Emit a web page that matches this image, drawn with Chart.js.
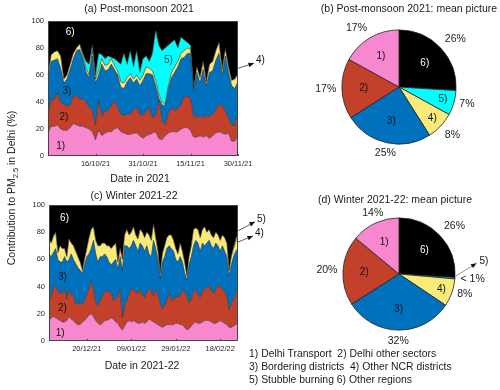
<!DOCTYPE html>
<html>
<head>
<meta charset="utf-8">
<script src="https://cdn.jsdelivr.net/npm/chart.js@4.4.1/dist/chart.umd.min.js"></script>
<style>
  body { margin: 0; background: #fff; }
  #wrap { position: relative; width: 500px; height: 390px; overflow: hidden;
          font-family: "Liberation Sans", Arial, sans-serif; color: #1a1a1a; }
  #wrap canvas { position: absolute; left: 0; top: 0; }
  .lbl { position: absolute; white-space: nowrap; font-size: 10.5px; line-height: 13px;
         transform: translate(-50%, -50%); }
  #ylab { position: absolute; left: -89px; top: 181px; width: 200px; height: 14px; line-height: 14px;
          text-align: center; white-space: nowrap; font-size: 10.5px; font-weight: 400; color: #1a1a1a;
          transform: rotate(-90deg); transform-origin: 100px 7px; }
  #ylab sub { font-size: 7.5px; vertical-align: -3px; line-height: 0; }
  #legend { position: absolute; left: 249px; top: 347px; font-size: 10.4px; line-height: 13px; white-space: nowrap; }
</style>
</head>
<body>
<div id="wrap">
  <canvas id="cA" width="500" height="390"></canvas>
  <canvas id="cC" width="500" height="390"></canvas>
  <canvas id="cB" width="500" height="390"></canvas>
  <canvas id="cD" width="500" height="390"></canvas>
  <div class="lbl" style="left:139px;top:8px">(a) Post-monsoon 2021</div>
  <div class="lbl" style="left:140px;top:178px">Date in 2021</div>
  <div class="lbl" style="left:134px;top:195px">(c) Winter 2021-22</div>
  <div class="lbl" style="left:142px;top:365px">Date in 2021-22</div>
  <div class="lbl" style="left:409px;top:8px">(b) Post-monsoon 2021: mean picture</div>
  <div class="lbl" style="left:395px;top:199px">(d) Winter 2021-22: mean picture</div>
  <div id="ylab">Contribution to PM<sub>2.5</sub> in Delhi (%)</div>
  <div id="legend"></div>
</div>
<script>
// source names, numbered 1) .. 6)
const sources = ['Delhi Transport', 'Delhi other sectors', 'Bordering districts',
                 'Other NCR districts', 'Stubble burning', 'Other regions'];
const colors = ['#f788d0', '#c3402b', '#0072bd', '#f9ea7a', '#00ffff', '#000000'];

// (a) post-monsoon, 1 Oct - 30 Nov 2021: upper edge of each band (cumulative %)
const postTop1 = [17,22,22,23,20,19,19,21,24,23,22,22,21,20,18,12,19,15,17,18,18,20,21,18,17,16,16,17,17,15,
                  13,15,16,17,18,13,12,15,17,18,18,18,20,21,21,19,14,14,15,14,15,13,15,17,18,17,16,17,11,11,15];
const postTop2 = [30,42,42,47,40,38,37,38,44,45,42,42,40,36,34,23,41,30,33,34,37,41,36,31,30,31,31,34,36,31,
                  30,33,36,28,30,41,26,23,32,35,34,35,38,44,44,43,29,29,30,28,30,29,31,34,38,38,33,28,23,23,35];
const postTop3 = [57,70,71,72,65,54,57,64,72,78,79,72,62,58,74,54,60,68,63,64,68,64,60,51,50,55,58,54,57,52,
                  56,61,61,60,52,43,38,37,50,58,62,66,72,73,76,76,48,62,54,64,52,62,63,71,76,60,74,62,52,50,55];
const postTop4 = [60,75,77,78,74,57,60,68,76,80,83,74,65,60,78,57,64,72,67,68,72,67,63,55,54,58,61,57,60,56,
                  60,66,65,63,56,46,40,38,52,62,66,70,76,78,80,79,50,66,58,70,55,68,70,78,84,64,79,66,56,57,61];
const postTop5 = [60,75,77,78,74,57,60,68,76,80,83,76,70,68,82,60,76,75,72,74,73,72,70,68,76,68,78,66,78,62,
                  72,74,70,76,93,82,78,80,82,84,86,80,88,86,84,82,50,66,58,70,55,68,70,78,84,64,79,66,56,57,61];
const postTicks = ['16/10/21', '31/10/21', '15/11/21', '30/11/21'];

// (c) winter, 3 Dec 2021 - 26 Feb 2022
const winTop1 = [15,17,18,17,16,15,14,14,15,18,16,15,13,12,12,14,15,17,19,20,18,15,13,12,13,15,15,16,17,16,
                 14,13,10,8,11,14,15,14,15,14,13,13,14,13,14,16,15,14,13,12,11,10,11,12,12,12,12,13,13,12,
                 12,10,8,9,11,13,14,13,13,14,15,15,15,14,13,13,14,15,14,13,12,10,10,11,12,15];
const winTop2 = [33,32,40,40,37,35,35,38,31,38,34,33,27,28,28,27,30,34,38,44,38,28,26,30,33,36,37,36,35,30,
                 31,33,38,17,26,30,34,38,38,36,35,38,34,32,36,38,37,33,38,33,28,24,26,30,35,31,30,33,32,33,
                 38,35,34,28,31,36,38,34,32,37,38,39,41,37,35,38,40,41,38,36,33,23,28,30,35,41];
const winTop3 = [64,62,65,68,60,58,58,62,58,60,64,60,57,54,52,50,56,62,64,68,74,64,58,62,62,64,62,58,56,58,
                 60,53,62,52,70,70,68,70,74,70,66,72,70,66,70,64,62,74,68,60,46,58,62,68,70,68,66,60,58,62,
                 58,50,45,56,62,70,74,72,66,72,70,72,74,70,68,72,70,66,70,66,62,48,56,62,66,68];
const winTop4 = [75,72,77,80,65,70,68,68,62,75,72,70,66,62,58,52,60,68,76,82,84,74,70,70,72,72,70,70,68,70,
                 72,58,68,60,78,82,78,80,84,78,75,82,80,76,80,78,74,86,76,66,50,64,70,76,78,78,74,68,64,72,
                 66,58,48,62,70,82,83,82,76,82,84,80,82,78,76,80,78,74,78,76,72,52,62,68,73,77];
const winTop5 = [75,72,77,80,65,70,68,68,62,75,72,70,66,62,58,52,60,68,76,82,84,74,70,70,72,72,70,70,68,70,
                 72,58,68,60,78,82,78,80,84,78,75,82,80,76,80,78,74,86,76,66,50,64,70,76,78,78,74,68,64,72,
                 66,58,48,62,70,82,83,82,76,82,84,80,82,78,76,80,78,74,78,76,72,52,62,69,75,79];
const winTicks = ['20/12/21', '09/01/22', '29/01/22', '18/02/22'];

// (b), (d) mean shares, sources 1..6
const postMean = [17, 17, 25, 8, 7, 26];
const postPct = ['17%', '17%', '25%', '8%', '7%', '26%'];
const winMean = [14, 20, 31.6, 8, 0.4, 26];
const winPct = ['14%', '20%', '32%', '8%', '< 1%', '26%'];

const FONT = '"Liberation Sans", Arial, sans-serif';

function dayLabels(y, m, d, n) {
  const out = [];
  for (let i = 0; i < n; i++) {
    const t = new Date(Date.UTC(y, m - 1, d + i));
    out.push(String(t.getUTCDate()).padStart(2, '0') + '/' +
             String(t.getUTCMonth() + 1).padStart(2, '0') + '/' +
             String(t.getUTCFullYear()).slice(2));
  }
  return out;
}

function drawArrow(ctx, x0, y0, x1, y1) {
  const a = Math.atan2(y1 - y0, x1 - x0);
  ctx.beginPath();
  ctx.moveTo(x0, y0);
  ctx.lineTo(x1, y1);
  ctx.stroke();
  ctx.beginPath();
  ctx.moveTo(x1, y1);
  ctx.lineTo(x1 - 6 * Math.cos(a - 0.4), y1 - 6 * Math.sin(a - 0.4));
  ctx.lineTo(x1 - 6 * Math.cos(a + 0.4), y1 - 6 * Math.sin(a + 0.4));
  ctx.closePath();
  ctx.fill();
}

// axes box, inward tick marks, band numbers and arrows
const framePlugin = {
  id: 'frame',
  afterDatasetsDraw(chart, args, opts) {
    const { ctx, chartArea: a, scales: { x, y } } = chart;
    ctx.save();
    ctx.strokeStyle = '#444';
    ctx.lineWidth = 1;
    ctx.strokeRect(a.left + 0.5, a.top + 0.5, a.width - 1, a.height - 1);
    x.ticks.forEach((t, k) => {
      if (!opts.ticks.includes(x.getLabelForValue(t.value))) return;
      const px = Math.round(x.getPixelForTick(k)) + 0.5;
      ctx.beginPath(); ctx.moveTo(px, a.bottom); ctx.lineTo(px, a.bottom - 2); ctx.stroke();
    });
    ctx.font = '10px ' + FONT;
    ctx.textAlign = 'center';
    ctx.textBaseline = 'middle';
    opts.notes.forEach(n => {
      ctx.fillStyle = n.color;
      ctx.fillText(n.text, x.getPixelForValue(n.i), y.getPixelForValue(n.v));
    });
    ctx.strokeStyle = '#333';
    ctx.fillStyle = '#111';
    ctx.lineWidth = 0.8;
    opts.arrows.forEach(r => {
      const x0 = x.getPixelForValue(r.i), y0 = y.getPixelForValue(r.v);
      drawArrow(ctx, x0, y0, x0 + r.dx, y0 + r.dy);
      ctx.textAlign = 'left';
      ctx.fillText(r.text, x0 + r.dx + 2, y0 + r.dy - 3);
    });
    ctx.restore();
  }
};

function areaChart(id, labels, tops, ticks, box, notes, arrows) {
  const fills = ['origin', '-1', '-1', '-1', '-1'];
  const datasets = tops.map((d, k) => ({
    data: d, fill: fills[k], backgroundColor: colors[k],
    borderColor: '#2b2b2b', borderWidth: 0.6, pointRadius: 0, tension: 0
  }));
  datasets.push({ data: tops[4], fill: 'end', backgroundColor: colors[5],
                  borderWidth: 0, pointRadius: 0, tension: 0 });
  return new Chart(document.getElementById(id), {
    type: 'line',
    data: { labels, datasets },
    options: {
      responsive: false,
      animation: false,
      layout: { padding: { left: 0, top: box.top, right: 500 - box.right, bottom: 390 - box.bottom - 20 } },
      plugins: {
        legend: { display: false },
        tooltip: { enabled: false },
        frame: { ticks, notes, arrows }
      },
      scales: {
        x: {
          offset: false,
          grid: { display: false, drawTicks: false },
          border: { display: false },
          ticks: {
            autoSkip: false, maxRotation: 0, minRotation: 0, padding: 3,
            color: '#262626', font: { size: 7.5, family: FONT },
            callback(v) { const l = this.getLabelForValue(v); return ticks.includes(l) ? l : ''; }
          },
          afterFit(s) { s.height = 20; }
        },
        y: {
          min: 0, max: 100,
          grid: { display: false, drawTicks: false },
          border: { display: false },
          ticks: { stepSize: 20, padding: 4, color: '#262626', font: { size: 7.5, family: FONT } },
          afterFit(s) { s.width = box.left; }
        }
      }
    },
    plugins: [framePlugin]
  });
}

// percent labels outside, numbers inside
const pieTextPlugin = {
  id: 'pieText',
  afterDatasetsDraw(chart, args, opts) {
    const ctx = chart.ctx;
    const vals = chart.data.datasets[0].data;
    ctx.save();
    chart.getDatasetMeta(0).data.forEach((arc, k) => {
      const p = arc.getProps(['x', 'y', 'startAngle', 'endAngle', 'outerRadius'], true);
      const mid = (p.startAngle + p.endAngle) / 2;
      const c = Math.cos(mid), s = Math.sin(mid);
      const r1 = p.outerRadius * 1.1;
      ctx.font = '10.5px ' + FONT;
      ctx.fillStyle = '#1a1a1a';
      ctx.textAlign = c > 0.45 ? 'left' : c < -0.45 ? 'right' : 'center';
      ctx.textBaseline = Math.abs(s) < 0.5 ? 'middle' : s > 0 ? 'top' : 'bottom';
      ctx.fillText(opts.pct[k], p.x + c * r1, p.y + s * r1);
      const num = opts.nums[k];
      ctx.font = '10px ' + FONT;
      if (vals[k] >= 2) {
        const r2 = p.outerRadius * (vals[k] >= 10 ? 0.62 : 0.8);
        ctx.fillStyle = opts.fills[k] === '#000000' ? '#fff' : '#111';
        ctx.textAlign = 'center';
        ctx.textBaseline = 'middle';
        ctx.fillText(num, p.x + c * r2, p.y + s * r2);
      } else {
        const x0 = p.x + c * p.outerRadius * 1.01, y0 = p.y + s * p.outerRadius - 2;
        ctx.strokeStyle = '#777';
        ctx.fillStyle = '#111';
        ctx.lineWidth = 0.8;
        drawArrow(ctx, x0, y0, x0 + 21, y0 - 13);
        ctx.textAlign = 'left';
        ctx.textBaseline = 'middle';
        ctx.fillText(num, x0 + 24, y0 - 15);
      }
    });
    ctx.restore();
  }
};

function pieChart(id, values, pct, center, radius) {
  // drawn clockwise from the top, so sources go 6) .. 1)
  const order = [5, 4, 3, 2, 1, 0];
  return new Chart(document.getElementById(id), {
    type: 'pie',
    data: {
      labels: order.map(k => sources[k]),
      datasets: [{
        data: order.map(k => values[k]),
        backgroundColor: order.map(k => colors[k]),
        borderColor: '#222',
        borderWidth: 0.8
      }]
    },
    options: {
      responsive: false,
      animation: false,
      layout: { padding: {
        left: center[0] - radius, right: 500 - center[0] - radius,
        top: center[1] - radius, bottom: 390 - center[1] - radius } },
      plugins: {
        legend: { display: false },
        tooltip: { enabled: false },
        pieText: { pct: order.map(k => pct[k]), nums: order.map(k => (k + 1) + ')'),
                   fills: order.map(k => colors[k]) }
      }
    },
    plugins: [pieTextPlugin]
  });
}

areaChart('cA', dayLabels(2021, 10, 1, 61), [postTop1, postTop2, postTop3, postTop4, postTop5], postTicks,
  { left: 48, right: 238, top: 21, bottom: 156 },
  [{ text: '6)', i: 7, v: 92, color: '#fff' }, { text: '5)', i: 38, v: 71, color: '#0a3a4a' },
   { text: '3)', i: 6, v: 48, color: '#111' }, { text: '2)', i: 5, v: 29, color: '#111' },
   { text: '1)', i: 4, v: 7, color: '#111' }],
  [{ text: '4)', i: 60, v: 65, dx: 16, dy: -5 }]);

areaChart('cC', dayLabels(2021, 12, 3, 86), [winTop1, winTop2, winTop3, winTop4, winTop5], winTicks,
  { left: 49, right: 238, top: 205, bottom: 341 },
  [{ text: '6)', i: 7, v: 90, color: '#fff' }, { text: '3)', i: 6, v: 47, color: '#111' },
   { text: '2)', i: 6, v: 24, color: '#111' }, { text: '1)', i: 5, v: 6, color: '#111' }],
  [{ text: '5)', i: 85, v: 81, dx: 17, dy: -9 }, { text: '4)', i: 85, v: 72.8, dx: 15, dy: -6 }]);

pieChart('cB', postMean, postPct, [399, 87], 57.5);
pieChart('cD', winMean, winPct, [399, 274], 56.5);

const legendLines = [[0, 1], [2, 3], [4, 5]].map(pair =>
  pair.map(k => (k + 1) + ') ' + sources[k]).join(pair[0] === 4 ? ' ' : '&nbsp; '));
document.getElementById('legend').innerHTML = legendLines.join('<br>');
</script>
</body>
</html>
